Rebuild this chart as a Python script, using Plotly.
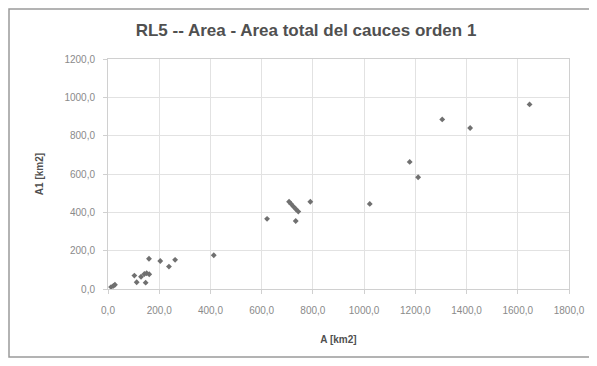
import plotly.graph_objects as go

# A [km2] and A1 [km2] values
area_a = [12, 21, 27, 103, 112, 129, 142, 151, 161, 147, 160, 204, 238, 262, 413,
          621, 707, 715, 724, 734, 743, 733, 790, 1022, 1178, 1211, 1305, 1414, 1646]
area_a1 = [10, 16, 22, 70, 35, 64, 78, 82, 77, 33, 158, 146, 117, 152, 176,
           366, 455, 444, 430, 416, 404, 355, 455, 444, 663, 583, 885, 840, 963]

x_ticks = [0, 200, 400, 600, 800, 1000, 1200, 1400, 1600, 1800]
y_ticks = [0, 200, 400, 600, 800, 1000, 1200]

# page body adds an 8px offset; work in figure coordinates
OFF = 8
W, H = 597 - OFF, 366 - OFF
L, R, T, B = 108 - OFF, 569 - OFF, 59 - OFF, 289 - OFF

fig = go.Figure()
fig.add_trace(go.Scatter(
    x=area_a, y=area_a1, mode="markers",
    marker=dict(symbol="diamond", size=4.5, color="#707070"),
    showlegend=False,
))

axis_font = dict(family="Liberation Sans, Arial, sans-serif", size=10, color="#8a8a8a")
title_font = dict(family="Liberation Sans, Arial, sans-serif", size=10, color="#505050")

fig.update_layout(
    width=W, height=H,
    margin=dict(l=L, r=W - R, t=T, b=H - B, autoexpand=False),
    paper_bgcolor="white", plot_bgcolor="white",
    separators=",.",
    title=dict(
        text="<b>RL5 -- Area - Area total del cauces orden 1</b>",
        x=(306 - OFF) / W, xanchor="center", y=1 - (30 - OFF) / H, yanchor="middle",
        font=dict(family="Liberation Sans, Arial, sans-serif", size=17, color="#505050"),
    ),
    xaxis=dict(
        range=[0, 1800], tickvals=x_ticks, tickformat=".1f", automargin=False,
        showgrid=True, gridcolor="#e2e2e2", gridwidth=1,
        zeroline=False, showline=True, linecolor="#d0d0d0", mirror=True,
        ticks="outside", ticklen=4, tickcolor="#d0d0d0", ticklabelstandoff=8,
        tickfont=axis_font,
        title=dict(text="<b>A [km2]</b>", font=title_font, standoff=20),
    ),
    yaxis=dict(
        range=[0, 1200], tickvals=y_ticks, tickformat=".1f", automargin=False,
        showgrid=True, gridcolor="#e2e2e2", gridwidth=1,
        zeroline=False, showline=True, linecolor="#d0d0d0", mirror=True,
        ticks="outside", ticklen=4, tickcolor="#d0d0d0", ticklabelstandoff=6,
        tickfont=axis_font,
        title=dict(text="<b>A1 [km2]</b>", font=title_font, standoff=18),
    ),
)

pw, ph = R - L, B - T
fig.add_shape(
    type="rect", xref="paper", yref="paper", layer="below",
    x0=(1 - L) / pw, x1=(591 - OFF - L) / pw,
    y0=(B - (357 - OFF)) / ph, y1=(B - 1) / ph,
    line=dict(color="#9a9a9a", width=1.5), fillcolor="rgba(0,0,0,0)",
)

fig.write_html("out.html")
